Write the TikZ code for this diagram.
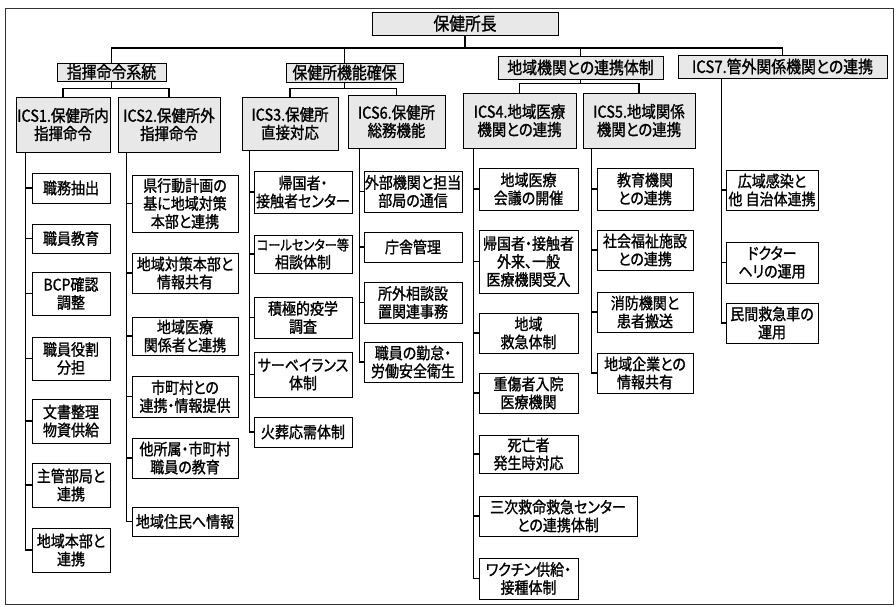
\documentclass[tikz,border=0pt]{standalone}
\usepackage{fontspec}
\setmainfont{Noto Sans CJK JP}[RawFeature={+palt}, FakeStretch=0.875, FakeBold=1.2]
\begin{document}
\begin{tikzpicture}[x=1pt,y=-1pt,
  box/.style={draw, line width=0.9pt, inner sep=0.5pt, align=center},
  topbox/.style={box, fill=gray!18, font=\fontsize{18}{19}\selectfont},
  catbox/.style={box, fill=gray!18, font=\fontsize{17}{18}\selectfont},
  icsbox/.style={box, fill=gray!18, font=\fontsize{16.5}{18}\selectfont},
  leaf/.style={box, fill=white, font=\fontsize{16}{18}\selectfont},
  conn/.style={line width=1.4pt},
]
\useasboundingbox (0,0) rectangle (896,607);
\draw[line width=0.8pt, black!80] (5,8) rectangle (893,604);

% top and categories
\node[topbox, minimum width=186, minimum height=23] (top) at (465,23.5) {保健所長};
\node[catbox, minimum width=109, minimum height=18] (cat1) at (111.5,72) {指揮命令系統};
\node[catbox, minimum width=117, minimum height=19] (cat2) at (344.5,72.5) {保健所機能確保};
\node[catbox, minimum width=165, minimum height=23] (cat3) at (580.5,67.5) {地域機関との連携体制};
\node[catbox, minimum width=209, minimum height=23] (cat7) at (782.5,66.5) {ICS7.管外関係機関との連携};

% ICS boxes
\node[icsbox, minimum width=94, minimum height=55] (ics1) at (63,124.5) {ICS1.保健所内\\指揮命令};
\node[icsbox, minimum width=102, minimum height=55] (ics2) at (169,124.5) {ICS2.保健所外\\指揮命令};
\node[icsbox, minimum width=96, minimum height=53] (ics3) at (290,123.5) {ICS3.保健所\\直接対応};
\node[icsbox, minimum width=97, minimum height=53] (ics6) at (396.5,121.5) {ICS6.保健所\\総務機能};
\node[icsbox, minimum width=113, minimum height=55] (ics4) at (519.5,120.5) {ICS4.地域医療\\機関との連携};
\node[icsbox, minimum width=112, minimum height=55] (ics5) at (639,120.5) {ICS5.地域関係\\機関との連携};

% column 1
\node[leaf, minimum width=78, minimum height=30] (a1) at (71,188) {職務抽出};
\node[leaf, minimum width=78, minimum height=29] (a2) at (71,238.5) {職員教育};
\node[leaf, minimum width=78, minimum height=43] (a3) at (71,293.5) {BCP確認\\調整};
\node[leaf, minimum width=78, minimum height=43] (a4) at (71,358.5) {職員役割\\分担};
\node[leaf, minimum width=78, minimum height=44] (a5) at (71,421) {文書整理\\物資供給};
\node[leaf, minimum width=78, minimum height=44] (a6) at (71,485) {主管部局と\\連携};
\node[leaf, minimum width=78, minimum height=44] (a7) at (71,550) {地域本部と\\連携};

% column 2
\node[leaf, minimum width=106, minimum height=57] (b1) at (185,203.5) {県行動計画の\\基に地域対策\\本部と連携};
\node[leaf, minimum width=106, minimum height=40] (b2) at (185,273) {地域対策本部と\\情報共有};
\node[leaf, minimum width=106, minimum height=38] (b3) at (185,336) {地域医療\\関係者と連携};
\node[leaf, minimum width=106, minimum height=41] (b4) at (185,396.5) {市町村との\\連携・情報提供};
\node[leaf, minimum width=106, minimum height=40] (b5) at (185,458) {他所属・市町村\\職員の教育};
\node[leaf, minimum width=106, minimum height=29] (b6) at (185,521.5) {地域住民へ情報};

% column 3
\node[leaf, minimum width=98, minimum height=42] (c1) at (303,192) {帰国者・\\接触者センター};
\node[leaf, text width=97pt, minimum height=38] (c2) at (303,254) {\resizebox{92pt}{!}{コールセンター等}\\相談体制};
\node[leaf, minimum width=98, minimum height=41] (c3) at (303,317.5) {積極的疫学\\調査};
\node[leaf, minimum width=98, minimum height=45] (c4) at (303,374.5) {サーベイランス\\体制};
\node[leaf, minimum width=98, minimum height=30] (c5) at (303,432) {火葬応需体制};

% column 6
\node[leaf, minimum width=98, minimum height=41] (f1) at (413,191.5) {外部機関と担当\\部局の通信};
\node[leaf, minimum width=98, minimum height=30] (f2) at (413,247) {庁舎管理};
\node[leaf, minimum width=98, minimum height=41] (f3) at (413,302.5) {所外相談設\\置関連事務};
\node[leaf, minimum width=98, minimum height=40] (f4) at (413,362) {職員の勤怠・\\労働安全衛生};

% column 4
\node[leaf, minimum width=99, minimum height=42] (d1) at (528.5,189) {地域医療\\会議の開催};
\node[leaf, minimum width=99, minimum height=63] (d2) at (528.5,261.5) {帰国者・接触者\\外来、一般\\医療機関受入};
\node[leaf, minimum width=99, minimum height=40] (d3) at (528.5,333) {地域\\救急体制};
\node[leaf, minimum width=99, minimum height=40] (d4) at (528.5,393) {重傷者入院\\医療機関};
\node[leaf, minimum width=99, minimum height=38] (d5) at (528.5,454) {死亡者\\発生時対応};
\node[leaf, minimum width=158, minimum height=40] (d6) at (558,516) {三次救命救急センター\\との連携体制};
\node[leaf, minimum width=99, minimum height=41] (d7) at (528.5,578.5) {ワクチン供給・\\接種体制};

% column 5
\node[leaf, minimum width=96, minimum height=42] (e1) at (645,189) {教育機関\\との連携};
\node[leaf, minimum width=96, minimum height=40] (e2) at (645,250) {社会福祉施設\\との連携};
\node[leaf, minimum width=96, minimum height=40] (e3) at (645,312) {消防機関と\\患者搬送};
\node[leaf, minimum width=96, minimum height=40] (e4) at (645,373) {地域企業との\\情報共有};

% column 7
\node[leaf, minimum width=92, minimum height=40] (g1) at (772,190) {広域感染と\\他 自治体連携};
\node[leaf, minimum width=92, minimum height=41] (g2) at (772,262.5) {ドクター\\ヘリの運用};
\node[leaf, minimum width=92, minimum height=40] (g3) at (772,323) {民間救急車の\\運用};

% upper connectors
\draw[conn] (top.south) -- ++(0,12.5) -| (cat1.north);
\draw[conn] (top.south) -- ++(0,12.5) -| (cat2.north);
\draw[conn] (top.south) -- ++(0,12.5) -| (cat3.north);
\draw[conn] (top.south) -- ++(0,12.5) -| (cat7.north);
\draw[conn] (cat1.south) -- ++(0,7) -| (ics1.north);
\draw[conn] (cat1.south) -- ++(0,7) -| (ics2.north);
\draw[conn] (cat2.south) -- ++(0,6) -| (ics3.north);
\draw[conn] (cat2.south) -- ++(0,6) -| (ics6.north);
\draw[conn] (cat3.south) -- ++(0,4) -| (ics4.north);
\draw[conn] (cat3.south) -- ++(0,4) -| (ics5.north);

% trunks
\path (ics1.south west) ++(10,0) coordinate (t1);
\path (ics2.south west) ++(9,0) coordinate (t2);
\path (ics3.south west) ++(8,0) coordinate (t3);
\path (ics6.south west) ++(12,0) coordinate (t6);
\path (ics4.south west) ++(11,0) coordinate (t4);
\path (ics5.south west) ++(9,0) coordinate (t5);
\path (cat7.south west) ++(44,0) coordinate (t7);

\foreach \n in {a1,a2,a3,a4,a5,a6,a7} \draw[conn] (t1) |- (\n.west);
\foreach \n in {b1,b2,b3,b4,b5,b6} \draw[conn] (t2) |- (\n.west);
\foreach \n in {c1,c2,c3,c4,c5} \draw[conn] (t3) |- (\n.west);
\foreach \n in {f1,f2,f3,f4} \draw[conn] (t6) |- (\n.west);
\foreach \n in {d1,d2,d3,d4,d5,d6,d7} \draw[conn] (t4) |- (\n.west);
\foreach \n in {e1,e2,e3,e4} \draw[conn] (t5) |- (\n.west);
\foreach \n in {g1,g2,g3} \draw[conn] (t7) |- (\n.west);
\end{tikzpicture}
\end{document}
